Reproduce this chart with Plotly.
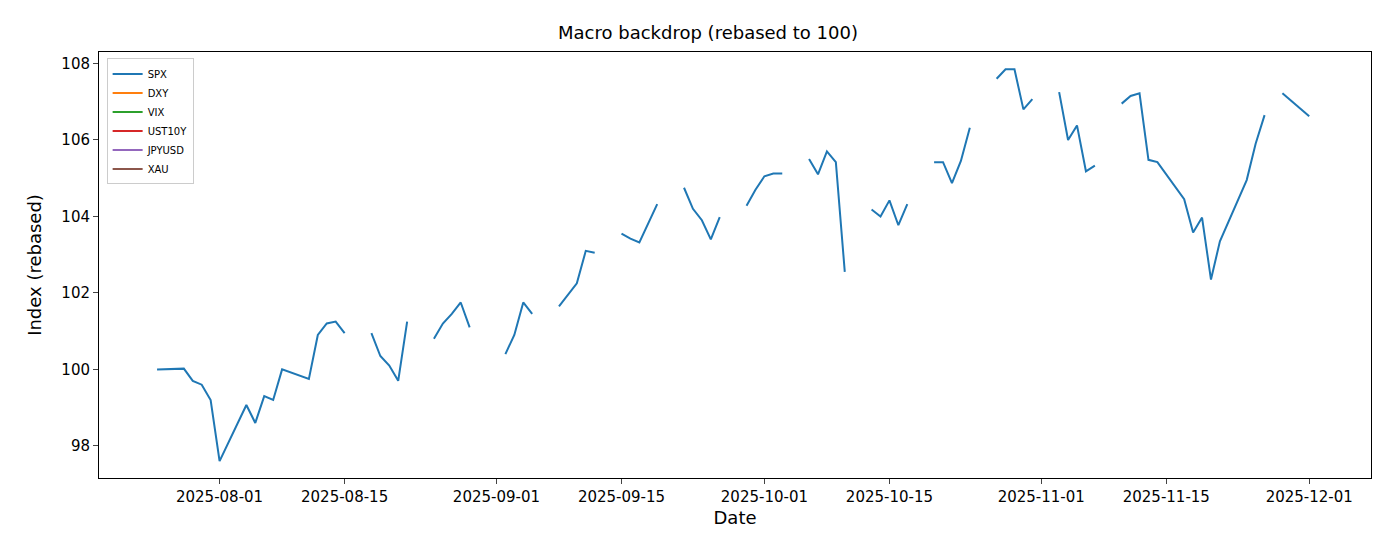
import plotly.graph_objects as go

dates = ["2025-07-25","2025-07-28","2025-07-29","2025-07-30","2025-07-31","2025-08-01",
"2025-08-04","2025-08-05","2025-08-06","2025-08-07","2025-08-08",
"2025-08-11","2025-08-12","2025-08-13","2025-08-14","2025-08-15","2025-08-16",
"2025-08-18","2025-08-19","2025-08-20","2025-08-21","2025-08-22","2025-08-23",
"2025-08-25","2025-08-26","2025-08-27","2025-08-28","2025-08-29","2025-08-30",
"2025-09-02","2025-09-03","2025-09-04","2025-09-05","2025-09-06",
"2025-09-08","2025-09-09","2025-09-10","2025-09-11","2025-09-12","2025-09-13",
"2025-09-15","2025-09-16","2025-09-17","2025-09-19","2025-09-20",
"2025-09-22","2025-09-23","2025-09-24","2025-09-25","2025-09-26","2025-09-27",
"2025-09-29","2025-09-30","2025-10-01","2025-10-02","2025-10-03","2025-10-04",
"2025-10-06","2025-10-07","2025-10-08","2025-10-09","2025-10-10","2025-10-11",
"2025-10-13","2025-10-14","2025-10-15","2025-10-16","2025-10-17","2025-10-18",
"2025-10-20","2025-10-21","2025-10-22","2025-10-23","2025-10-24","2025-10-25",
"2025-10-27","2025-10-28","2025-10-29","2025-10-30","2025-10-31","2025-11-01",
"2025-11-03","2025-11-04","2025-11-05","2025-11-06","2025-11-07","2025-11-08",
"2025-11-10","2025-11-11","2025-11-12","2025-11-13","2025-11-14",
"2025-11-17","2025-11-18","2025-11-19","2025-11-20","2025-11-21",
"2025-11-24","2025-11-25","2025-11-26","2025-11-27",
"2025-11-28","2025-12-01"]
spx = [100.0,100.02,99.7,99.6,99.2,97.6,
99.07,98.6,99.3,99.2,100.0,
99.75,100.9,101.2,101.25,100.95,None,
100.95,100.35,100.1,99.7,101.25,None,
100.8,101.2,101.45,101.75,101.1,None,
100.4,100.9,101.75,101.45,None,
101.65,101.95,102.25,103.1,103.05,None,
103.55,103.42,103.32,104.32,None,
104.75,104.2,103.9,103.4,103.98,None,
104.28,104.7,105.05,105.12,105.12,None,
105.5,105.1,105.7,105.42,102.55,None,
104.18,104.0,104.42,103.77,104.32,None,
105.42,105.42,104.87,105.45,106.32,None,
107.6,107.85,107.85,106.8,107.07,None,
107.25,106.0,106.38,105.18,105.33,None,
106.95,107.15,107.22,105.48,105.42,
104.45,103.58,103.97,102.35,103.35,
104.95,105.9,106.65,None,
107.22,106.62]

others = ["DXY","VIX","UST10Y","JPYUSD","XAU"]
colors = ["#ff7f0e","#2ca02c","#d62728","#9467bd","#8c564b"]
tick_dates = ["2025-08-01","2025-08-15","2025-09-01","2025-09-15","2025-10-01",
              "2025-10-15","2025-11-01","2025-11-15","2025-12-01"]

fig = go.Figure()
fig.add_trace(go.Scatter(x=dates, y=spx, mode="lines", name="SPX",
                         line=dict(color="#1f77b4", width=2), connectgaps=False))
for n, c in zip(others, colors):
    fig.add_trace(go.Scatter(x=[dates[0]], y=[None], mode="lines", name=n,
                             line=dict(color=c, width=2)))

fig.update_layout(
    width=1400, height=560, paper_bgcolor="white", plot_bgcolor="white",
    font=dict(family="DejaVu Sans", size=15, color="black"),
    title=dict(text="Macro backdrop (rebased to 100)", x=0.5, xanchor="center",
               y=1 - 25/560, yanchor="middle", font=dict(size=18)),
    margin=dict(l=91, r=37, t=44, b=90),
    showlegend=True,
    legend=dict(x=0.006, y=0.985, xanchor="left", yanchor="top", font=dict(size=10),
                bordercolor="#cccccc", borderwidth=1, bgcolor="white", tracegroupgap=0,
                itemwidth=30),
    xaxis=dict(title=dict(text="Date", standoff=6), range=["2025-07-18 12:00", "2025-12-07 22:00"],
               tickvals=tick_dates, ticktext=tick_dates,
               showline=True, linecolor="black", mirror=True, ticks="outside", showgrid=False, zeroline=False),
    yaxis=dict(title=dict(text="Index (rebased)"), range=[97.16, 108.3], tickvals=[98,100,102,104,106,108],
               showline=True, linecolor="black", mirror=True, ticks="outside", showgrid=False, zeroline=False),
)
fig.write_html("out.html")
